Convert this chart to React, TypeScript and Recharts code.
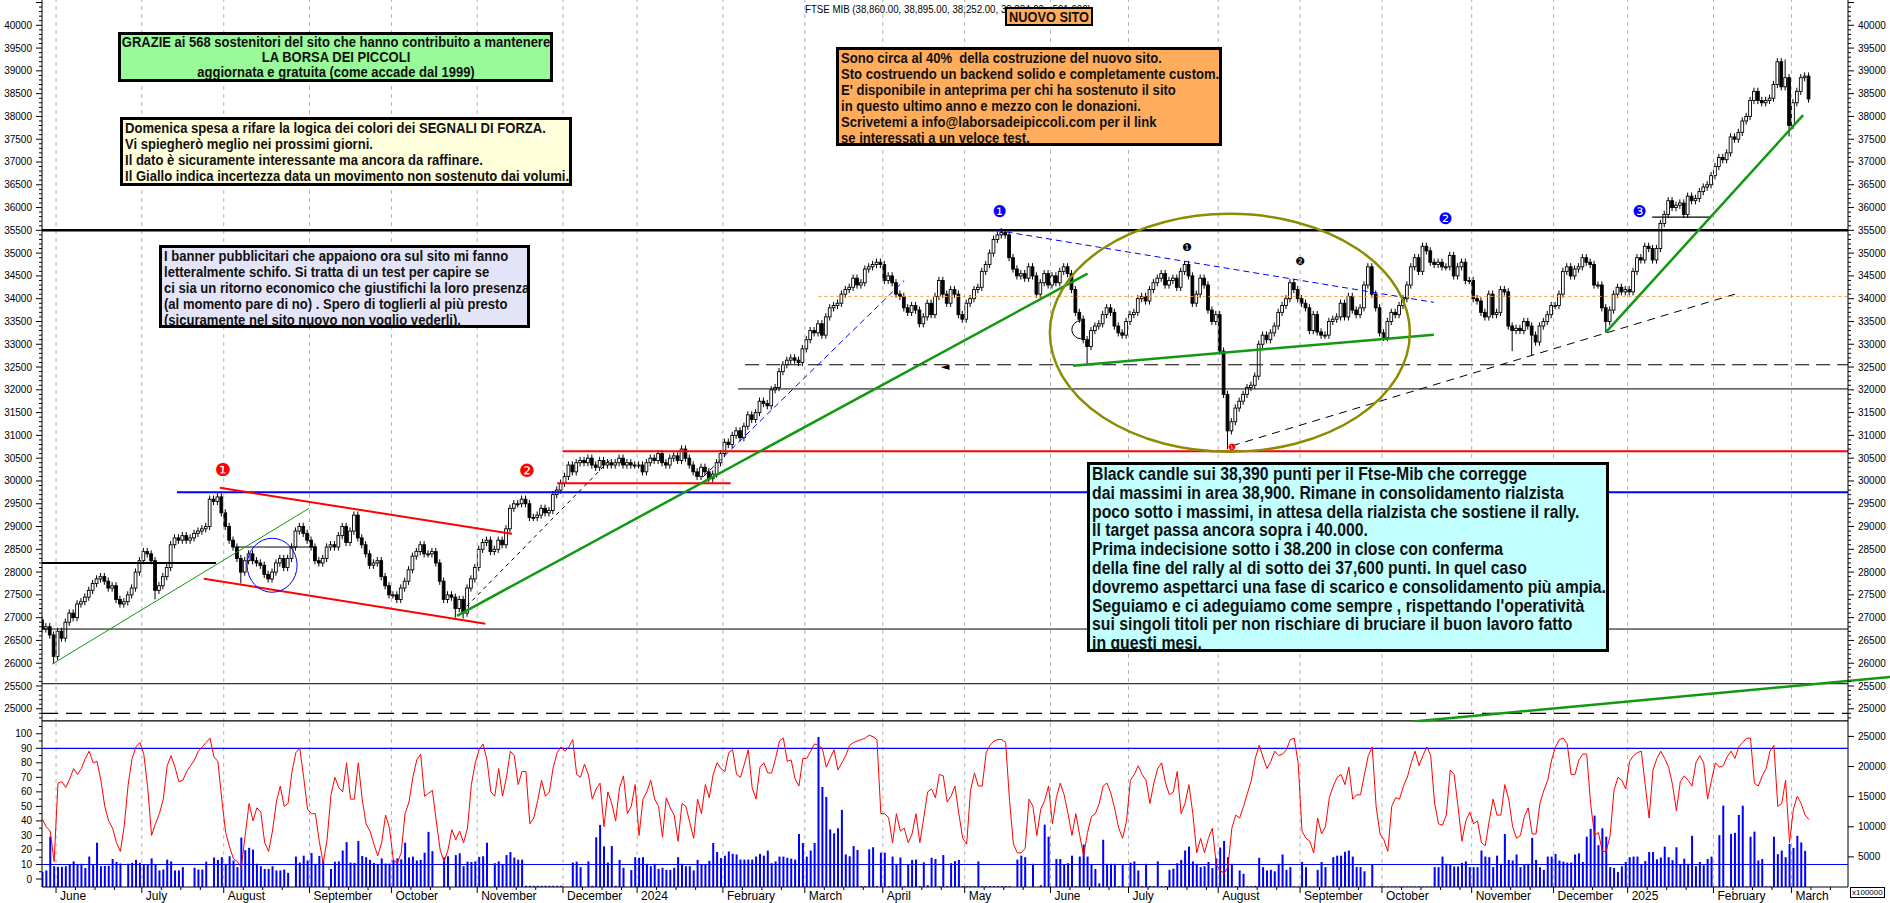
import React, { useLayoutEffect, useRef, useState } from 'react';
import {
  ComposedChart,
  Bar,
  Line,
  XAxis,
  YAxis,
  ReferenceLine,
  ReferenceDot,
} from 'recharts';

// trading days per month, May 2023 .. March 2025
const monthDays = [4, 22, 21, 22, 21, 22, 22, 19, 22, 21, 20, 21, 22, 20, 23, 21, 21, 23, 21, 19, 22, 20, 5];
const monthLabels = [
  'June', 'July', 'August', 'September', 'October', 'November', 'December', '2024',
  'February', 'March', 'April', 'May', 'June', 'July', 'August', 'September',
  'October', 'November', 'December', '2025', 'February', 'March',
];

// daily closes of FTSE MIB
const closes = [
  // May 23
  26750, 26800, 26620, 26150,
  // Jun
  26700, 26550, 26900, 27100, 27000, 27300, 27350, 27450, 27600, 27750, 27850, 27900, 27800, 27650, 27700, 27400, 27300, 27350, 27500, 27650, 28000, 28250,
  // Jul
  28450, 28400, 28250, 27600, 27700, 27900, 28100, 28600, 28750, 28700, 28800, 28700, 28750, 28850, 28900, 28950, 29000, 29600, 29550, 29650, 29300,
  // Aug
  29000, 28700, 28550, 28300, 28000, 28250, 28400, 28250, 28200, 28150, 27950, 27850, 28000, 28200, 28300, 28100, 28300, 28550, 28900, 29000, 28850, 28700,
  // Sep
  28550, 28250, 28200, 28300, 28550, 28600, 28550, 28800, 29000, 28650, 28900, 29250, 28750, 28600, 28400, 28150, 28200, 28250, 27900, 27700, 27500,
  // Oct
  27500, 27400, 27650, 27800, 28050, 28350, 28450, 28600, 28400, 28400, 28450, 28200, 27800, 27400, 27500, 27450, 27200, 27400, 27100, 27650, 27850, 28100,
  // Nov
  28500, 28650, 28700, 28450, 28500, 28700, 28600, 28950, 29400, 29500, 29500, 29600, 29500, 29200, 29200, 29250, 29400, 29300, 29350, 29700, 29800, 29950,
  // Dec
  30100, 30350, 30200, 30400, 30450, 30400, 30500, 30350, 30300, 30450, 30350, 30400, 30350, 30400, 30500, 30350, 30400, 30350, 30350,
  // Jan 24
  30350, 30200, 30400, 30500, 30450, 30600, 30400, 30350, 30500, 30550, 30450, 30700, 30500, 30350, 30200, 30100, 30300, 30200, 30050, 30150, 30400, 30600,
  // Feb
  30850, 30800, 31000, 31100, 30950, 31200, 31450, 31350, 31500, 31750, 31700, 31650, 32000, 32050, 32400, 32550, 32650, 32700, 32650, 32600, 32900,
  // Mar
  33100, 33300, 33250, 33450, 33200, 33600, 33800, 33850, 33900, 34100, 34200, 34250, 34450, 34300, 34350, 34650, 34700, 34750, 34800, 34750,
  // Apr
  34400, 34500, 34350, 34100, 34050, 33800, 33700, 33850, 33750, 33450, 33600, 33900, 33650, 34050, 34400, 34100, 33900, 34200, 34100, 33650, 33550,
  // May
  33900, 34000, 34200, 34250, 34600, 34750, 35000, 35300, 35400, 35450, 35400, 34900, 34650, 34500, 34550, 34450, 34700, 34500, 34100, 34350, 34550, 34300,
  // Jun
  34500, 34350, 34600, 34700, 34550, 34200, 33700, 33550, 33100, 32950, 33300, 33400, 33450, 33650, 33800, 33700, 33400, 33250, 33200, 33500,
  // Jul
  33650, 33700, 34000, 34050, 33950, 34200, 34350, 34450, 34550, 34300, 34400, 34450, 34250, 34600, 34750, 34500, 33900, 34100, 34450, 34300, 33750, 33500, 33650,
  // Aug
  32850, 31900, 31100, 31300, 31600, 31750, 31900, 32050, 32100, 32300, 33000, 33200, 33100, 33250, 33400, 33700, 33850, 34000, 34350, 34200, 34000,
  // Sep
  33900, 33800, 33300, 33650, 33270, 33200, 33200, 33500, 33550, 33600, 33900, 33600, 34050, 33750, 33650, 33800, 34300, 34700, 34100, 33800, 33250,
  // Oct
  33150, 33500, 33700, 33650, 33850, 34000, 34300, 34700, 34900, 34600, 35150, 35050, 34800, 34750, 34800, 34700, 34700, 34950, 34500, 34700, 34800, 34400, 34400,
  // Nov
  34000, 33950, 33700, 33600, 34100, 33650, 33700, 34200, 34150, 33400, 33300, 33350, 33300, 33500, 33400, 33200, 33050, 33400, 33500, 33650, 33850,
  // Dec
  33850, 34100, 34600, 34700, 34500, 34650, 34700, 34900, 34800, 34750, 34300, 34300, 33800, 33500, 33750, 34100, 34250, 34150, 34200,
  // Jan 25
  34150, 34600, 34900, 34850, 35150, 35100, 34850, 35100, 35650, 35850, 36150, 36000, 36050, 36100, 35850, 36250, 36150, 36200, 36350, 36450, 36500, 36700,
  // Feb
  36900, 37100, 37050, 37200, 37550, 37500, 37650, 37900, 38000, 38350, 38550, 38350, 38300, 38350, 38400, 38700, 39200, 38650, 38850, 37800,
  // Mar
  38300, 38550, 38850, 38885, 38384,
];

// long shadows (day index -> price)
const lowShadows: Record<number, number> = {
  3: 25980, 29: 27400, 51: 27750, 106: 27000, 108: 26980, 268: 32550, 304: 30700,
  377: 32850, 382: 32750, 401: 33250, 448: 37560,
};
const highShadows: Record<number, number> = { 246: 35550, 445: 39280, 447: 39250 };

// oscillator (left scale of the lower panel)
const osc = [
  41, 36, 33, 12, 66, 67, 63, 69, 76, 72, 76, 83, 88, 80, 81, 68, 50, 40, 35, 25,
  19, 37, 65, 83, 91, 94, 86, 63, 30, 38, 45, 55, 78, 85, 77, 67, 68, 74, 78, 82,
  88, 91, 94, 97, 84, 81, 55, 32, 22, 14, 12, 8, 30, 52, 40, 49, 46, 25, 19, 33,
  53, 64, 50, 52, 74, 87, 90, 70, 48, 45, 45, 26, 11, 27, 58, 70, 63, 60, 80, 55,
  55, 80, 55, 38, 33, 24, 16, 25, 44, 35, 13, 11, 18, 45, 53, 70, 82, 86, 57, 59,
  61, 40, 20, 12, 20, 34, 27, 33, 25, 35, 65, 80, 89, 93, 82, 60, 57, 76, 57, 70,
  88, 85, 65, 74, 74, 38, 42, 54, 68, 57, 60, 77, 87, 91, 88, 91, 96, 72, 70, 79,
  72, 55, 62, 66, 36, 60, 52, 40, 63, 71, 45, 50, 65, 30,
  55, 60, 68, 55, 50, 29, 56, 49, 44, 26, 52, 50, 39, 28, 55, 45, 65, 56, 72, 80,
  76, 74, 87, 89, 72, 70, 79, 89, 63, 55, 77, 80, 73, 73, 83, 95, 97, 81, 82, 69,
  64, 83, 83, 88, 93, 92, 90, 77, 83, 89, 75, 80, 85, 92, 94, 95, 96, 97, 99, 98,
  96, 45, 45, 42, 25, 45, 33, 35, 25, 31, 45, 25, 42, 60, 62, 56, 72, 71, 53, 57,
  64, 45, 28, 24, 61, 73, 64, 64, 87, 92, 95, 96, 96, 94, 54, 24, 18, 18, 21, 55,
  50, 30, 48, 54, 64, 38, 56, 66, 58, 45, 30, 45, 30, 16, 32, 43, 45, 52, 64, 66,
  59, 48, 35, 28, 40, 68, 72, 78, 72, 68, 52, 66, 76, 80, 66, 58, 60, 74, 45, 52,
  65, 45, 18, 28, 18, 28, 35, 10, 6, 4, 8, 35, 44, 42, 50, 59, 68, 83, 92, 84,
  76, 81, 88, 85,
  86, 89, 96, 97, 80, 33, 28, 26, 18, 42, 31, 36, 56, 64, 70, 72, 65, 77, 55, 58,
  58, 72, 85, 91, 50, 31, 27, 19, 50, 56, 55, 64, 70, 80, 88, 78, 85, 91, 85, 52,
  38, 37, 44, 75, 72, 50, 26, 40, 46, 38, 40, 25, 23, 40, 55, 44, 44, 65, 55, 36,
  28, 30, 43, 49, 31, 31, 52, 61, 68, 82, 91, 96, 97, 93, 72, 72, 82, 86, 86, 52,
  30, 32, 19, 19, 30, 61, 70, 68, 62, 81, 85, 87, 88, 65, 42, 75, 83, 88, 83, 77,
  65, 47, 67, 71, 68, 64, 80, 85, 80, 55, 68, 80, 77, 78, 84, 88, 83, 91, 94, 97,
  97, 66, 64, 71, 76, 88, 92, 50, 52, 68, 25, 48, 57, 52, 44, 41,
];

// volume bars (right scale of the lower panel, x100000)
const volume = [
  2500, 2750, 8350, 3450, 3350, 3350, 3450, 3750, 4250, 3800,
  3850, 3150, 5050, 3700, 7350, 3450, 3500, 3500, 4650, 4150,
  3900, 0, 3850, 4000, 4500, 4000, 3750, 3750, 4750, 3700,
  2750, 2900, 4550, 4250, 2750, 2750, 3300, 0, 0, 3200,
  2900, 2900, 4200, 0, 4900, 4500, 4950, 3850, 5100, 4400,
  3300, 8200, 6100, 6500, 6200, 3850, 3450, 3000, 3000, 3450,
  2750, 2750, 2900, 2350, 0, 5050, 4050, 5200, 4400, 5650,
  3850, 5150, 4400, 0, 3000, 4200, 4250, 6050, 7450, 4050,
  4000, 7650, 5150, 4950, 4500, 4000, 3700, 4750, 3900, 3900,
  4500, 4750, 4600, 7350, 4900, 5050, 4400, 4500, 5700, 9150,
  5950, 0, 0, 4900, 5100, 0, 5300, 5600, 3450, 4200,
  4150, 4250, 5000, 5100, 7350, 0, 3950, 4250, 3700, 5300,
  5800, 4900, 4550, 4550, 200, 200, 200, 200, 200, 200,
  200, 200, 200, 200, 0, 0, 4050, 4200, 3300, 0,
  4250, 200, 8250, 10300, 6750, 4050, 6800, 200, 4500, 3200,
  0, 2800, 4950, 4850,
  4950, 3850, 3450, 3850, 3000, 3200, 2850, 2850, 3200, 4950,
  3850, 3450, 3450, 2750, 4500, 3700, 3700, 4350, 7300, 5800,
  4800, 5200, 5900, 5500, 5400, 4550, 4550, 4550, 4550, 5050,
  5500, 5200, 6050, 3950, 4250, 5050, 5050, 4850, 4700, 4550,
  8800, 7300, 5050, 6050, 7300, 24900, 16600, 14950, 9550, 8900,
  9750, 12800, 5400, 5100, 6800, 6150, 150, 150, 6250, 6600,
  150, 5700, 5700, 150, 5050, 3850, 4900, 150, 3750, 4500,
  4550, 150, 4100, 300, 4850, 4650, 150, 5300, 150, 3950,
  4300, 4500, 150, 150, 150, 150, 4250, 150, 150, 150,
  150, 150, 150, 150, 150, 0, 4550, 5200, 4950, 0,
  3850, 0, 300, 10350, 8350, 0, 4650, 4650, 3700, 3950,
  5200, 150, 5050, 7050, 5050, 3700, 3000, 600, 7850, 3850,
  3850, 3850, 150, 3700, 0, 4050, 4250, 2750, 150, 3850,
  150, 150, 4250, 150, 150, 2850, 3050, 3950, 4500, 6050,
  6700, 4250, 3850, 3300, 3450, 4150, 3150, 4750, 6550, 7650,
  4950, 3850, 150, 2750, 2200, 150, 150, 200, 4850, 3300,
  2750, 2850, 2600, 3850,
  5400, 2850, 3300, 100, 100, 4150, 3300, 100, 100, 2850,
  4150, 3300, 100, 4950, 5200, 5200, 5850, 6050, 5050, 3300,
  3300, 2600, 100, 3700, 100, 100, 100, 100, 100, 100,
  100, 100, 100, 100, 100, 100, 100, 100, 100, 3300,
  3300, 5050, 3850, 3700, 3400, 3400, 4000, 4250, 3300, 3300,
  3300, 6050, 5050, 4950, 3300, 5200, 3850, 8800, 4500, 4400,
  5400, 3300, 3800, 3850, 8150, 4500, 3300, 2850, 5050, 5050,
  5500, 4400, 4200, 4050, 4050, 5400, 5600, 4150, 8350, 9650,
  11850, 6950, 9750, 8350, 3300, 3150, 2500, 3450, 4150, 4950,
  5050, 5050, 3700, 4300, 5800, 5800, 4600, 4900, 6700, 4950,
  4450, 6600, 3650, 4700, 3850, 8500, 3450, 4150, 3600, 4650,
  5050, 100, 8600, 13500, 100, 8800, 9000, 11950, 13500, 100,
  8350, 9200, 4400, 4650, 100, 100, 8350, 5450, 6050, 4950,
  7150, 6500, 8500, 7400, 6000, 0,
];

// drawn lines in day index / price
type Seg = { x1: number; y1: number; x2: number; y2: number; color: string; w: number; dash?: string };
const X_MIN = -0.1;
const X_MAX = 463;
const drawnLines: Seg[] = [
  { x1: X_MIN, y1: 35500, x2: X_MAX, y2: 35500, color: '#000', w: 2.5 },
  { x1: 412.8, y1: 35790, x2: 427.6, y2: 35790, color: '#000', w: 1.2 },
  { x1: 199, y1: 34050, x2: X_MAX, y2: 34050, color: '#ff9933', w: 1, dash: '3 3' },
  { x1: 180.2, y1: 32550, x2: X_MAX, y2: 32550, color: '#000', w: 1.2, dash: '14 7' },
  { x1: 178.4, y1: 32020, x2: X_MAX, y2: 32020, color: '#000', w: 1 },
  { x1: 133.4, y1: 30650, x2: X_MAX, y2: 30650, color: '#ff0000', w: 2 },
  { x1: 132, y1: 29950, x2: 176.5, y2: 29950, color: '#ff0000', w: 2 },
  { x1: 34.5, y1: 29750, x2: X_MAX, y2: 29750, color: '#0000ff', w: 2 },
  { x1: X_MIN, y1: 28200, x2: 44.5, y2: 28200, color: '#000', w: 2 },
  { x1: 49.9, y1: 28550, x2: 70.4, y2: 28550, color: '#000', w: 1 },
  { x1: X_MIN, y1: 26750, x2: X_MAX, y2: 26750, color: '#000', w: 1 },
  { x1: X_MIN, y1: 25550, x2: X_MAX, y2: 25550, color: '#000', w: 1 },
  { x1: X_MIN, y1: 24900, x2: X_MAX, y2: 24900, color: '#000', w: 1.2, dash: '16 8' },
  { x1: X_MIN, y1: 24735, x2: X_MAX, y2: 24735, color: '#000', w: 1.2 },
  // trendlines
  { x1: 2.5, y1: 25980, x2: 68.4, y2: 29400, color: '#119911', w: 1 },
  { x1: 106.3, y1: 27040, x2: 268, y2: 34550, color: '#119911', w: 2.5 },
  { x1: 264.3, y1: 32530, x2: 356.8, y2: 33210, color: '#119911', w: 2.5 },
  { x1: 401, y1: 33270, x2: 451.5, y2: 38030, color: '#119911', w: 2.5 },
  { x1: 45.5, y1: 29850, x2: 120.4, y2: 28840, color: '#ff0000', w: 2 },
  { x1: 41.4, y1: 27855, x2: 113.6, y2: 26865, color: '#ff0000', w: 2 },
  { x1: 244.7, y1: 35500, x2: 356.8, y2: 33920, color: '#0000ff', w: 1, dash: '6 4' },
  { x1: 169.3, y1: 30080, x2: 221, y2: 34400, color: '#0000ff', w: 1, dash: '6 4' },
  { x1: 108.8, y1: 27250, x2: 146, y2: 30500, color: '#000', w: 1, dash: '4 4' },
  { x1: 305, y1: 30770, x2: 434, y2: 34100, color: '#000', w: 1, dash: '8 6' },
];
const overflowLine: Seg = { x1: 351.6, y1: 24720, x2: 473.8, y2: 25700, color: '#119911', w: 2.5 };

const numberMarks = [
  { i: 46.3, p: 30250, t: '\u2776', color: '#ff0000', size: 18 },
  { i: 124.3, p: 30230, t: '\u2777', color: '#ff0000', size: 18 },
  { i: 245.5, p: 35910, t: '\u2776', color: '#0000ff', size: 16 },
  { i: 359.8, p: 35760, t: '\u2777', color: '#0000ff', size: 16 },
  { i: 409.5, p: 35920, t: '\u2778', color: '#0000ff', size: 16 },
  { i: 293.5, p: 35130, t: '\u2776', color: '#000', size: 11 },
  { i: 322.5, p: 34830, t: '\u2777', color: '#000', size: 11 },
  { i: 305, p: 30760, t: '\u2776', color: '#ff0000', size: 9 },
];

const textBoxes = [
  {
    left: 118, top: 32, width: 435, height: 50, bg: '#99fa99', size: 14, lh: 15, align: 'center', textW: 428,
    lines: ['GRAZIE ai 568 sostenitori del sito che hanno contribuito a mantenere', 'LA BORSA DEI PICCOLI', 'aggiornata e gratuita (come accade dal 1999)'],
  },
  {
    left: 120, top: 117, width: 452, height: 69, bg: '#ffffdc', size: 14.5, lh: 16, align: 'left', textW: 444,
    lines: [
      'Domenica spesa a rifare la logica dei colori dei SEGNALI DI FORZA.',
      'Vi spiegherò meglio nei prossimi giorni.',
      'Il dato è sicuramente interessante ma ancora da raffinare.',
      'Il Giallo indica incertezza data un movimento non sostenuto dai volumi.',
    ],
  },
  {
    left: 159, top: 245, width: 371, height: 83, bg: '#e4e4f8', size: 14.5, lh: 16, align: 'left', textW: 365,
    lines: [
      'I banner pubblicitari che appaiono ora sul sito mi fanno',
      'letteralmente schifo. Si tratta di un test per capire se',
      'ci sia un ritorno economico che giustifichi la loro presenza',
      '(al momento pare di no) . Spero di toglierli al più presto',
      '(sicuramente nel sito nuovo non voglio vederli).',
    ],
  },
  {
    left: 836, top: 47, width: 386, height: 99, bg: '#ffad5c', size: 15, lh: 16, align: 'left', textW: 378,
    lines: [
      'Sono circa al 40%  della costruzione del nuovo sito.',
      'Sto costruendo un backend solido e completamente custom.',
      "E' disponibile in anteprima per chi ha sostenuto il sito",
      'in questo ultimo anno e mezzo con le donazioni.',
      'Scrivetemi a info@laborsadeipiccoli.com per il link',
      'se interessati a un veloce test.',
    ],
  },
  {
    left: 1087, top: 462, width: 522, height: 190, bg: '#c2ffff', size: 17.5, lh: 18.8, align: 'left', textW: 514,
    lines: [
      'Black candle sui 38,390 punti per il Ftse-Mib che corregge',
      'dai massimi in area 38,900. Rimane in consolidamento rialzista',
      'poco sotto i massimi, in attesa della rialzista che sostiene il rally.',
      'Il target passa ancora sopra i 40.000.',
      'Prima indecisione sotto i 38.200 in close con conferma',
      'della fine del rally al di sotto dei 37,600 punti. In quel caso',
      'dovremo aspettarci una fase di scarico e consolidamento più ampia.',
      "Seguiamo e ci adeguiamo come sempre , rispettando l'operatività",
      'sui singoli titoli per non rischiare di bruciare il buon lavoro fatto',
      'in questi mesi.',
    ],
  },
];

const W = 1890;
const TOP_H = 722;
const LOW_H = 181;
const AXIS_W = 42;
const P_MIN = 24710;
const P_MAX = 40555;
const OSC_MIN = -5.5;
const OSC_MAX = 108.1;
const VOL_MAX = 27390;
const WICK = 80;
const BOX_FONT = "'Liberation Sans', Arial, sans-serif";

const data = closes.map((c, i) => {
  const o = i === 0 ? 26950 : closes[i - 1];
  const h = highShadows[i] ?? Math.max(o, c) + WICK;
  const l = lowShadows[i] ?? Math.min(o, c) - WICK;
  return { i, o, c, h, l, range: [l, h], osc: osc[i], vol: volume[i] };
});

const monthBounds: number[] = [];
{
  let acc = 0;
  monthDays.forEach((d, k) => {
    acc += d;
    if (k < monthDays.length - 1) monthBounds.push(acc - 0.5);
  });
}
const minorX: number[] = [];
monthBounds.forEach((b, k) => {
  const next = k + 1 < monthBounds.length ? monthBounds[k + 1] : X_MAX;
  for (let s = 5; b + s < next - 2; s += 5) minorX.push(b + s);
});
const xTicks = [...monthBounds, ...minorX].sort((a, b) => a - b);

const priceTicks: number[] = [];
for (let v = 24800; v <= 40500; v += 100) priceTicks.push(v);
const oscTicks: number[] = [];
for (let v = 0; v <= 105; v += 5) oscTicks.push(v);
const volTicks = [5000, 10000, 15000, 20000, 25000];

const Candle = (props: any) => {
  const { x, y, width, height, payload } = props;
  if (!payload || x == null) return null;
  const { o, c, h, l } = payload;
  const top = height < 0 ? y + height : y;
  const hh = Math.abs(height);
  const k = hh / (h - l);
  const cx = x + width / 2;
  const bTop = top + (h - Math.max(o, c)) * k;
  const bBot = top + (h - Math.min(o, c)) * k;
  const up = c >= o;
  return (
    <g>
      <line x1={cx} x2={cx} y1={top} y2={top + hh} stroke="#000" strokeWidth={1} />
      <rect
        x={cx - 1.4}
        y={bTop}
        width={2.8}
        height={Math.max(1, bBot - bTop)}
        fill={up ? '#fff' : '#000'}
        stroke="#000"
        strokeWidth={0.9}
      />
    </g>
  );
};

const PriceTick = (props: any) => {
  const { x, y, payload, side } = props;
  const v = payload.value;
  const major = v % 500 === 0;
  const dir = side === 'l' ? -1 : 1;
  const show = major && v >= 25000 && v <= 40000;
  return (
    <g>
      <line x1={x} x2={x + dir * (major ? 6 : 3)} y1={y} y2={y} stroke="#000" />
      {show && (
        <text
          x={side === 'l' ? x - 10 : x + 10}
          y={y + 3.5}
          textAnchor={side === 'l' ? 'end' : 'start'}
          fontSize={10}
          fill="#000"
        >
          {v}
        </text>
      )}
    </g>
  );
};

const OscTick = (props: any) => {
  const { x, y, payload } = props;
  const v = payload.value;
  const major = v % 10 === 0;
  return (
    <g>
      <line x1={x} x2={x - (major ? 6 : 3)} y1={y} y2={y} stroke="#000" />
      {major && (
        <text x={x - 10} y={y + 3.5} textAnchor="end" fontSize={10} fill="#000">
          {v}
        </text>
      )}
    </g>
  );
};

const VolTick = (props: any) => {
  const { x, y, payload } = props;
  return (
    <g>
      <line x1={x} x2={x + 6} y1={y} y2={y} stroke="#000" />
      <text x={x + 10} y={y + 3.5} textAnchor="start" fontSize={10} fill="#000">
        {payload.value}
      </text>
    </g>
  );
};

const MonthTick = (props: any) => {
  const { x, y, payload } = props;
  const k = monthBounds.indexOf(payload.value);
  if (k < 0) return <line x1={x} x2={x} y1={y} y2={y + 3} stroke="#000" />;
  return (
    <g>
      <line x1={x} x2={x} y1={y} y2={y + 6} stroke="#000" />
      <text x={x + 4} y={y + 13} fontSize={12} fill="#000">
        {monthLabels[k]}
      </text>
    </g>
  );
};

// squeezes its lines horizontally so the longest one is textW pixels wide
function FitLines(props: { lines: string[]; textW: number; align: string }) {
  const ref = useRef<HTMLDivElement>(null);
  const [k, setK] = useState(1);
  useLayoutEffect(() => {
    const el = ref.current;
    if (!el) return;
    let maxW = 0;
    el.querySelectorAll('span').forEach((s) => {
      maxW = Math.max(maxW, (s as HTMLElement).offsetWidth);
    });
    if (maxW > 0) setK(props.textW / maxW);
  }, []);
  const centered = props.align === 'center';
  return (
    <div
      ref={ref}
      style={{
        width: 'max-content',
        position: 'relative',
        left: centered ? '50%' : 0,
        transform: centered ? `translateX(-50%) scaleX(${k})` : `scaleX(${k})`,
        transformOrigin: centered ? 'center top' : 'left top',
        textAlign: props.align as any,
        whiteSpace: 'pre',
      }}
    >
      {props.lines.map((ln, j) => (
        <div key={j}>
          <span style={{ display: 'inline-block' }}>{ln}</span>
        </div>
      ))}
    </div>
  );
}

export default function App() {
  return (
    <div
      style={{
        position: 'absolute',
        left: 0,
        top: 0,
        width: W,
        height: 903,
        background: '#fff',
        overflow: 'hidden',
        fontFamily: "'Liberation Sans', Arial, sans-serif",
      }}
    >
      <div style={{ position: 'absolute', left: 0, top: 0 }}>
        <ComposedChart width={W} height={TOP_H} data={data} margin={{ top: 0, right: 0, bottom: 0, left: 0 }}>
          <XAxis dataKey="i" type="number" domain={[X_MIN, X_MAX]} allowDataOverflow hide />
          <YAxis
            yAxisId="p"
            orientation="left"
            width={AXIS_W}
            domain={[P_MIN, P_MAX]}
            allowDataOverflow
            ticks={priceTicks}
            interval={0}
            tick={(p: any) => <PriceTick {...p} side="l" />}
            tickLine={false}
            tickSize={0}
            tickMargin={0}
            axisLine={{ stroke: '#000' }}
          />
          <YAxis
            yAxisId="pr"
            orientation="right"
            width={AXIS_W}
            domain={[P_MIN, P_MAX]}
            allowDataOverflow
            ticks={priceTicks}
            interval={0}
            tick={(p: any) => <PriceTick {...p} side="r" />}
            tickLine={false}
            tickSize={0}
            tickMargin={0}
            axisLine={{ stroke: '#000' }}
          />
          {monthBounds.map((b) => (
            <ReferenceLine key={'g' + b} yAxisId="p" x={b} stroke="#b4b4b4" strokeDasharray="4 4" />
          ))}
          {drawnLines.map((s, k) => (
            <ReferenceLine
              key={'l' + k}
              yAxisId="p"
              segment={[{ x: s.x1, y: s.y1 }, { x: s.x2, y: s.y2 }]}
              stroke={s.color}
              strokeWidth={s.w}
              strokeDasharray={s.dash}
              ifOverflow="visible"
            />
          ))}
          <ReferenceLine
            yAxisId="p"
            segment={[{ x: overflowLine.x1, y: overflowLine.y1 }, { x: overflowLine.x2, y: overflowLine.y2 }]}
            stroke={overflowLine.color}
            strokeWidth={overflowLine.w}
            ifOverflow="visible"
          />
          <Bar yAxisId="p" dataKey="range" barSize={3} shape={Candle} isAnimationActive={false} />
          <ReferenceDot
            yAxisId="p"
            x={58.9}
            y={28150}
            r={1}
            shape={(p: any) => <ellipse cx={p.cx} cy={p.cy} rx={25} ry={27} fill="none" stroke="#0000ff" strokeWidth={1} />}
          />
          <ReferenceDot
            yAxisId="p"
            x={304.5}
            y={33250}
            r={1}
            shape={(p: any) => <ellipse cx={p.cx} cy={p.cy} rx={180} ry={119} fill="none" stroke="#8c8c00" strokeWidth={2.5} />}
          />
          <ReferenceDot
            yAxisId="p"
            x={265}
            y={33320}
            r={1}
            shape={(p: any) => (
              <path d={`M ${p.cx + 5} ${p.cy - 9} A 9 9 0 1 0 ${p.cx + 5} ${p.cy + 9}`} fill="none" stroke="#000" strokeWidth={1} />
            )}
          />
          <ReferenceDot
            yAxisId="p"
            x={231.5}
            y={32530}
            r={1}
            shape={(p: any) => (
              <text x={p.cx} y={p.cy + 4} textAnchor="middle" fontSize={11} fill="#000" fontFamily="DejaVu Sans">
                {'\u25C4'}
              </text>
            )}
          />
          {numberMarks.map((m, k) => (
            <ReferenceDot
              key={'m' + k}
              yAxisId="p"
              x={m.i}
              y={m.p}
              r={1}
              shape={(p: any) => (
                <text
                  x={p.cx}
                  y={p.cy + m.size * 0.36}
                  textAnchor="middle"
                  fontSize={m.size}
                  fill={m.color}
                  fontFamily="'DejaVu Sans', sans-serif"
                >
                  {m.t}
                </text>
              )}
            />
          ))}
        </ComposedChart>
      </div>

      <div style={{ position: 'absolute', left: 0, top: TOP_H }}>
        <ComposedChart width={W} height={LOW_H} data={data} margin={{ top: 0, right: 0, bottom: 0, left: 0 }}>
          <XAxis
            dataKey="i"
            type="number"
            domain={[X_MIN, X_MAX]}
            allowDataOverflow
            ticks={xTicks}
            interval={0}
            height={LOW_H - 165}
            tick={MonthTick}
            tickLine={false}
            tickSize={0}
            tickMargin={0}
            axisLine={{ stroke: '#000' }}
          />
          <YAxis
            yAxisId="osc"
            orientation="left"
            width={AXIS_W}
            domain={[OSC_MIN, OSC_MAX]}
            allowDataOverflow
            ticks={oscTicks}
            interval={0}
            tick={OscTick}
            tickLine={false}
            tickSize={0}
            tickMargin={0}
            axisLine={{ stroke: '#000' }}
          />
          <YAxis
            yAxisId="vol"
            orientation="right"
            width={AXIS_W}
            domain={[0, VOL_MAX]}
            allowDataOverflow
            ticks={volTicks}
            interval={0}
            tick={VolTick}
            tickLine={false}
            tickSize={0}
            tickMargin={0}
            axisLine={{ stroke: '#000' }}
          />
          {monthBounds.map((b) => (
            <ReferenceLine key={'lg' + b} yAxisId="osc" x={b} stroke="#b4b4b4" strokeDasharray="4 4" />
          ))}
          <Bar yAxisId="vol" dataKey="vol" barSize={2} fill="#0000ff" isAnimationActive={false} />
          <ReferenceLine yAxisId="osc" y={90} stroke="#0000ff" strokeWidth={1.2} />
          <ReferenceLine yAxisId="osc" y={10} stroke="#0000ff" strokeWidth={1.2} />
          <Line
            yAxisId="osc"
            dataKey="osc"
            type="linear"
            stroke="#ff0000"
            strokeWidth={1}
            dot={false}
            isAnimationActive={false}
          />
        </ComposedChart>
      </div>

      <div style={{ position: 'absolute', left: 805, top: 3, fontSize: 11, color: '#000', lineHeight: '12px' }}>
        <FitLines lines={['FTSE MIB (38,860.00, 38,895.00, 38,252.00, 38,384.00, -501.000)']} textW={286} align="left" />
      </div>
      <div
        style={{
          position: 'absolute',
          left: 1005,
          top: 7,
          width: 88,
          height: 19,
          boxSizing: 'border-box',
          border: '2px solid #000',
          background: '#ffad5c',
          fontFamily: BOX_FONT,
          fontWeight: 'bold',
          fontSize: 15,
          lineHeight: '15px',
          color: '#111',
          overflow: 'hidden',
        }}
      >
        <FitLines lines={['NUOVO SITO']} textW={80} align="center" />
      </div>
      {textBoxes.map((b, k) => (
        <div
          key={'t' + k}
          style={{
            position: 'absolute',
            left: b.left,
            top: b.top,
            width: b.width,
            height: b.height,
            boxSizing: 'border-box',
            border: '3px solid #000',
            background: b.bg,
            fontFamily: BOX_FONT,
            fontWeight: 'bold',
            fontSize: b.size,
            lineHeight: b.lh + 'px',
            color: '#111',
            padding: b.align === 'left' ? '0 0 0 2px' : 0,
            overflow: 'hidden',
          }}
        >
          <FitLines lines={b.lines} textW={b.textW} align={b.align} />
        </div>
      ))}
      <div
        style={{
          position: 'absolute',
          left: 1850,
          top: 887,
          border: '1px solid #000',
          fontSize: 8,
          lineHeight: '9px',
          padding: '0 1px',
          background: '#fff',
        }}
      >
        x100000
      </div>
    </div>
  );
}
